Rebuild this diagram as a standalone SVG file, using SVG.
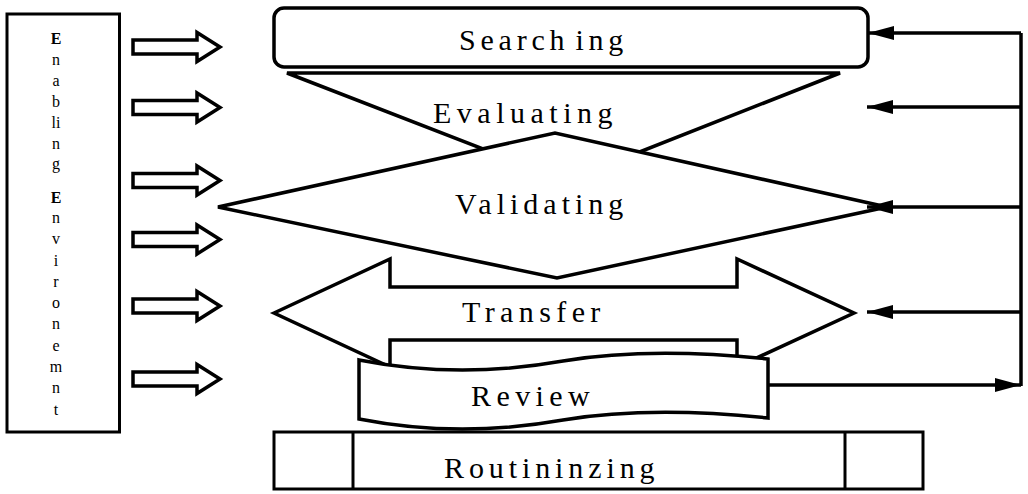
<svg xmlns="http://www.w3.org/2000/svg" width="1028" height="494" viewBox="0 0 1028 494">
  <style>
    .shape { fill: #fff; stroke: #000; stroke-width: 3.5; stroke-linejoin: miter; }
    .thin { fill: #fff; stroke: #000; stroke-width: 3; }
    .conn { fill: none; stroke: #000; stroke-width: 3.5; }
    .flow { fill: #fff; stroke: #000; stroke-width: 3.5; }
  </style>
  <defs>
    <marker id="head" markerUnits="userSpaceOnUse" markerWidth="28" markerHeight="16" refX="26" refY="7" orient="auto">
      <path d="M0,0 L26,7 L0,14 Z" fill="#000"/>
    </marker>
  </defs>

  <rect width="1028" height="494" fill="#fff"/>

  <g font-family="Liberation Serif, DejaVu Serif, serif" fill="#000">
  <!-- enabling environment column -->
  <g id="enabling-environment" font-size="16" text-anchor="middle">
    <rect class="thin" x="7" y="14" width="112.5" height="418"/>
    <text x="56" y="44" font-weight="bold">E</text>
    <text x="56" y="65">n</text>
    <text x="56" y="86">a</text>
    <text x="56" y="107">b</text>
    <text x="56" y="128">li</text>
    <text x="56" y="149">n</text>
    <text x="56" y="169">g</text>
    <text x="56" y="203" font-weight="bold">E</text>
    <text x="56" y="223">n</text>
    <text x="56" y="244">v</text>
    <text x="56" y="266">i</text>
    <text x="56" y="287">r</text>
    <text x="56" y="308">o</text>
    <text x="56" y="329">n</text>
    <text x="56" y="351">e</text>
    <text x="56" y="372">m</text>
    <text x="56" y="393">n</text>
    <text x="56" y="415">t</text>
  </g>

  <!-- block arrows from the environment column -->
  <g id="input-arrows">
    <polygon class="flow" points="133,40 197,40 197,32.5 220,47 197,61.5 197,54 133,54"/>
    <polygon class="flow" points="133,100.5 197,100.5 197,93 220,107.5 197,122 197,114.5 133,114.5"/>
    <polygon class="flow" points="133,173.5 197,173.5 197,166 220,180.5 197,195 197,187.5 133,187.5"/>
    <polygon class="flow" points="133,232.5 197,232.5 197,225 220,239.5 197,254 197,246.5 133,246.5"/>
    <polygon class="flow" points="133,299 197,299 197,291.5 220,306 197,320.5 197,313 133,313"/>
    <polygon class="flow" points="133,372 197,372 197,364.5 220,379 197,393.5 197,386 133,386"/>
  </g>

  <!-- stage 1 -->
  <g id="searching" font-size="30">
    <rect class="shape" x="274" y="8" width="594" height="59" rx="10" ry="10"/>
    <text x="459" y="50" letter-spacing="4.8">Search<tspan dx="6">ing</tspan></text>
  </g>

  <!-- stage 2: funnel -->
  <g id="evaluating" font-size="30">
    <polygon class="shape" points="287,73 840,73 566,181"/>
    <text x="433" y="123" letter-spacing="5.5">Evaluating</text>
  </g>

  <!-- stage 3: diamond -->
  <g id="validating" font-size="30">
    <polygon class="shape" points="218,207 555,133 887,207 557,278"/>
    <text x="455" y="214" letter-spacing="5">Validating</text>
  </g>

  <!-- stage 4: double-headed arrow -->
  <g id="transfer" font-size="30">
    <polygon class="shape" points="274,313 390,259 390,287 737,287 737,259 854,313 737,367 737,340 390,340 390,367"/>
    <text x="462" y="322" letter-spacing="5.4">Transfer</text>
  </g>

  <!-- stage 5: tape -->
  <g id="review" font-size="30">
    <path class="shape" d="M359,360 C420,372 490,374 563,361 C630,350 700,352 768,359 L768,418 C700,411 630,409 563,420 C490,433 420,431 359,419 Z"/>
    <text x="471" y="406" letter-spacing="5.4">Review</text>
  </g>

  <!-- stage 6: predefined process box -->
  <g id="routininzing" font-size="30">
    <rect class="thin" x="274" y="432" width="649" height="57"/>
    <line x1="353" y1="432" x2="353" y2="489" stroke="#000" stroke-width="3"/>
    <line x1="845" y1="432" x2="845" y2="489" stroke="#000" stroke-width="3"/>
    <text x="444" y="478" letter-spacing="4.9">Routininzing</text>
  </g>
  </g>

  <!-- feedback loop -->
  <g id="connectors">
    <path class="conn" d="M768,385 L1021,385" marker-end="url(#head)"/>
    <path class="conn" d="M1021,386 L1021,33"/>
    <path class="conn" d="M1021,33 L868,33" marker-end="url(#head)"/>
    <path class="conn" d="M1021,107 L867,107" marker-end="url(#head)"/>
    <path class="conn" d="M1021,207 L867,207" marker-end="url(#head)"/>
    <path class="conn" d="M1021,312 L867,312" marker-end="url(#head)"/>
  </g>
</svg>
